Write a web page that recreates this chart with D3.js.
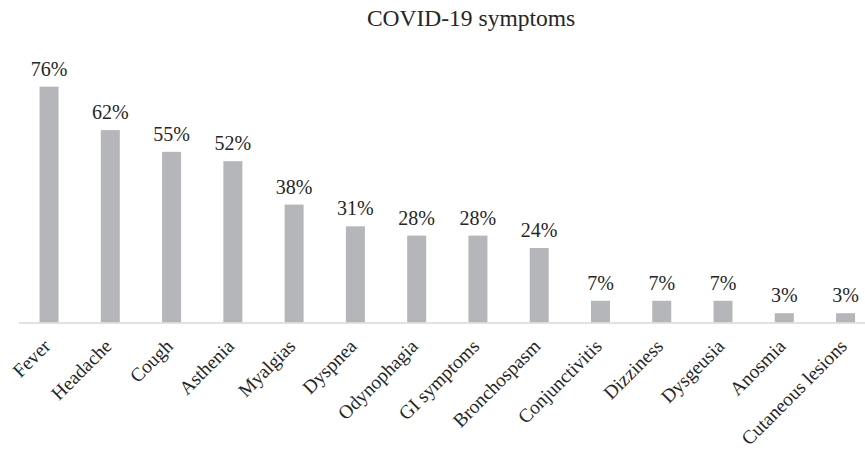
<!DOCTYPE html>
<html>
<head>
<meta charset="utf-8">
<script src="https://cdn.jsdelivr.net/npm/d3@7"></script>
<style>
  html, body { margin: 0; padding: 0; background: #fff; }
  svg { display: block; }
</style>
</head>
<body>
<div id="chart"></div>
<script>
// Symptom categories and share of patients (%)
const symptoms = ["Fever", "Headache", "Cough", "Asthenia", "Myalgias", "Dyspnea",
  "Odynophagia", "GI symptoms", "Bronchospasm", "Conjunctivitis", "Dizziness",
  "Dysgeusia", "Anosmia", "Cutaneous lesions"];
const percentages = [76, 62, 55, 52, 38, 31, 28, 28, 24, 7, 7, 7, 3, 3];
const chartTitle = "COVID-19 symptoms";

const width = 865, height = 452;
const font = "'Liberation Serif', 'Times New Roman', serif";
const textColor = "#262626";

const svg = d3.select("#chart").append("svg")
  .attr("width", width).attr("height", height);

const x = d3.scaleBand()
  .domain(symptoms)
  .range([18.4, 876.2])
  .paddingInner(0.69)
  .paddingOuter(0.345);

const y = d3.scaleLinear()
  .domain([0, 100])
  .range([322.5, 12.2]);

// Title
svg.append("text")
  .attr("x", 471).attr("y", 26)
  .attr("text-anchor", "middle")
  .attr("font-family", font).attr("font-size", 23.5)
  .attr("fill", textColor)
  .text(chartTitle);

// Bars
svg.append("g").selectAll("rect")
  .data(percentages)
  .join("rect")
  .attr("x", (d, i) => x(symptoms[i]))
  .attr("width", x.bandwidth())
  .attr("y", d => y(d))
  .attr("height", d => y(0) - y(d))
  .attr("fill", "#b5b6b9");

// Value labels
svg.append("g").selectAll("text")
  .data(percentages)
  .join("text")
  .attr("x", (d, i) => x(symptoms[i]) + x.bandwidth() / 2)
  .attr("y", d => y(d) - 11)
  .attr("text-anchor", "middle")
  .attr("font-family", font).attr("font-size", 20)
  .attr("fill", textColor)
  .text(d => d + "%");

// Category axis
const axis = svg.append("g")
  .attr("transform", `translate(0,${y(0)})`)
  .call(d3.axisBottom(x).tickSize(0).tickSizeOuter(0));
axis.select(".domain").attr("stroke", "#d9d9d9").attr("stroke-width", 1.5);
axis.selectAll(".tick text")
  .attr("font-family", font).attr("font-size", 19.3)
  .attr("fill", textColor)
  .style("fill", textColor)
  .attr("text-anchor", "end")
  .attr("x", 0).attr("y", 0).attr("dy", 0)
  .attr("transform", "translate(2.5,25) rotate(-45)");
</script>
</body>
</html>
